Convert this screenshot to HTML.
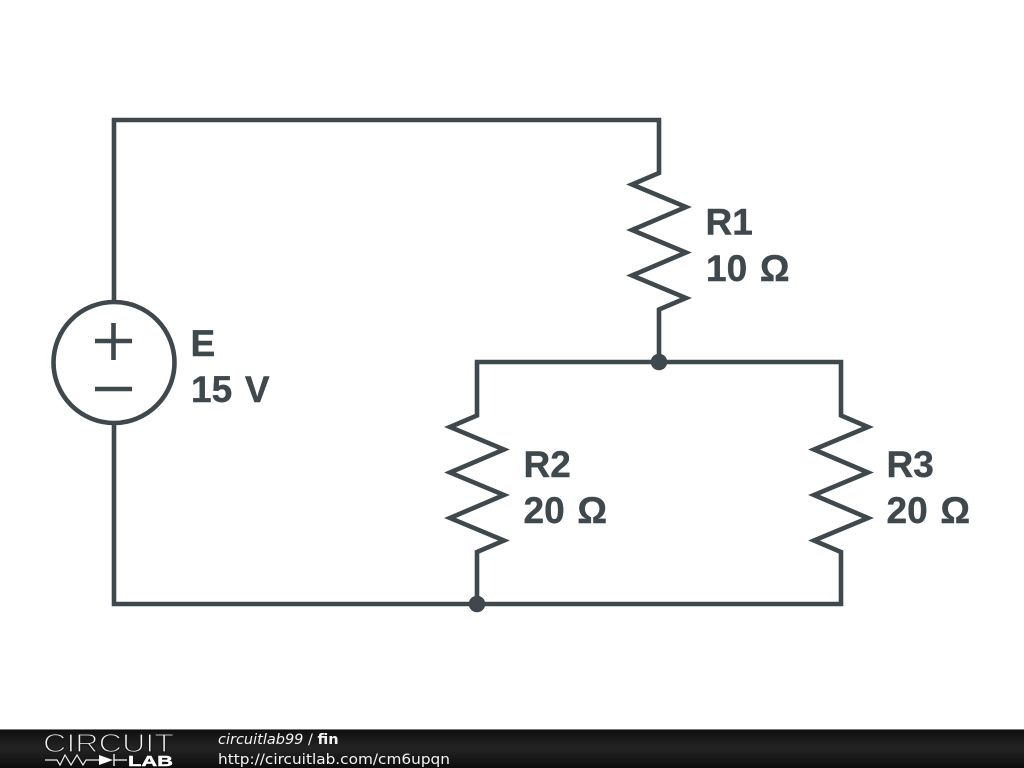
<!DOCTYPE html>
<html>
<head>
<meta charset="utf-8">
<style>
html,body{margin:0;padding:0;background:#fff;width:1024px;height:768px;overflow:hidden}
svg{display:block}
.l{font-family:"Liberation Sans",Arial,sans-serif;font-weight:bold;font-size:37px;fill:#3f484d;stroke:#3f484d;stroke-width:0.4;word-spacing:2.5px}
.f{font-family:"DejaVu Sans",sans-serif;font-size:14.5px;fill:#f4f4f4}
</style>
</head>
<body>
<svg width="1024" height="768" viewBox="0 0 1024 768" xmlns="http://www.w3.org/2000/svg">
<defs>
<linearGradient id="g" x1="0" y1="0" x2="0" y2="1">
<stop offset="0" stop-color="#0e0e0e"/>
<stop offset="0.5" stop-color="#242424"/>
<stop offset="1" stop-color="#0c0c0c"/>
</linearGradient>
</defs>
<rect width="1024" height="768" fill="#fff"/>
<g fill="none" stroke="#3f484d" stroke-width="4.6" stroke-linejoin="miter" stroke-linecap="square">
<polyline points="114,300 114,120 659,120 659,173 632,184.5 686,207 632,230 686,252.5 632,275.5 686,298 659,309.5 659,362"/>
<polyline points="114,425 114,604 841,604 841,552 814,540.5 868,518 814,495 868,472.5 814,449.5 868,427 841,415.5 841,362 477,362 477,415.5 450,427 504,449.5 450,472.5 504,495 450,518 504,540.5 477,552 477,604"/>
<circle cx="114" cy="362.5" r="60.5"/>
<path d="M95 341H132M113.5 323V360M95 389H132" stroke-linecap="butt"/>
</g>
<circle cx="659" cy="362" r="8.3" fill="#3f484d"/>
<circle cx="477" cy="604" r="8.3" fill="#3f484d"/>
<text class="l" x="705.5" y="234.5">R1</text>
<text class="l" x="706" y="281">10 Ω</text>
<text class="l" x="190.5" y="356">E</text>
<text class="l" x="191" y="402">15 V</text>
<text class="l" x="523.5" y="477">R2</text>
<text class="l" x="523.5" y="523">20 Ω</text>
<text class="l" x="886.5" y="477">R3</text>
<text class="l" x="886.5" y="523">20 Ω</text>
<rect x="0" y="729" width="1024" height="39" fill="url(#g)"/>
<rect x="0" y="729" width="1024" height="1" fill="#777"/>
<text x="43" y="752" font-family="'Liberation Sans',sans-serif" font-size="26" fill="#f2f2f2" stroke="#181818" stroke-width="1.2" textLength="131" lengthAdjust="spacingAndGlyphs">CIRCUIT</text>
<polyline points="45,760 57,760 60,765 65,755 71,765 77,755 83,765 86,760 99,760" fill="none" stroke="#eee" stroke-width="1.2"/>
<path d="M99 755L113 760L99 765Z" fill="#fff"/>
<path d="M114 754V766M114 760H127" stroke="#fff" stroke-width="1.3" fill="none"/>
<text x="128" y="766" font-family="'Liberation Sans',sans-serif" font-weight="bold" font-size="15" fill="#fff" stroke="#fff" stroke-width="0.4" textLength="45" lengthAdjust="spacingAndGlyphs">LAB</text>
<text class="f" x="218" y="744"><tspan font-style="italic">circuitlab99</tspan> / <tspan font-weight="bold">fin</tspan></text>
<text class="f" x="218" y="764" textLength="232" lengthAdjust="spacingAndGlyphs">http://circuitlab.com/cm6upqn</text>
</svg>
</body>
</html>
